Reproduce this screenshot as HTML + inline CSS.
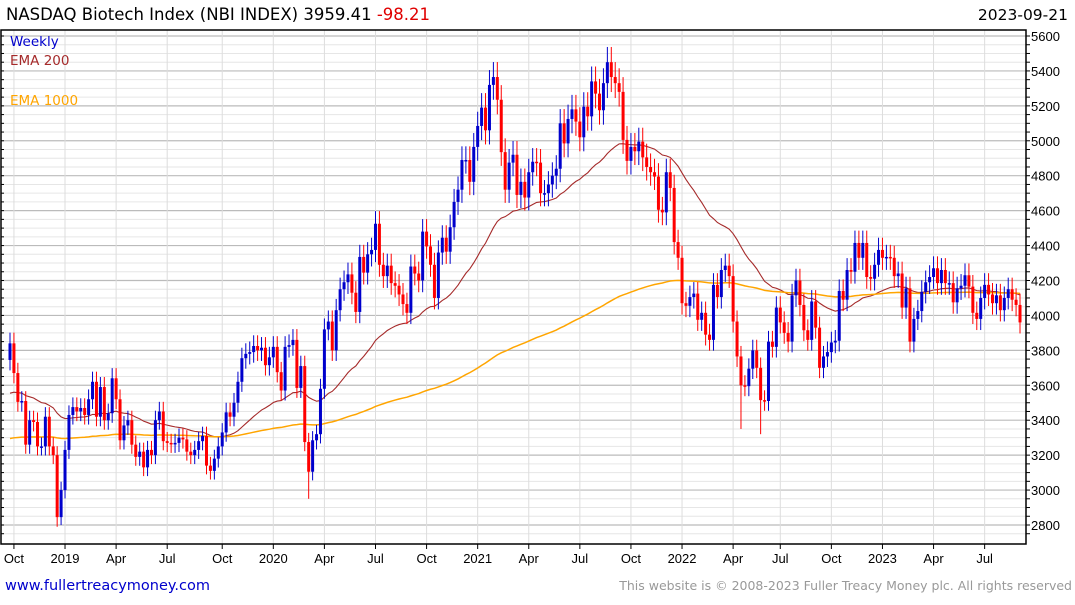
<!DOCTYPE html>
<html><head><meta charset="utf-8"><style>
body{margin:0;background:#fff;width:1075px;height:600px;overflow:hidden;font-family:"Liberation Sans",sans-serif}
svg text{font-family:"Liberation Sans",sans-serif}
svg text.dv{font-family:"DejaVu Sans",sans-serif}
</style></head><body>
<svg id="chart" width="1075" height="600" xmlns="http://www.w3.org/2000/svg">
<g id="grid"></g>
<g id="lines"></g>
<g id="candles"></g>
<rect x="1" y="30" width="1025" height="514" fill="none" stroke="#000" stroke-width="1.5"/>
<g id="axes"></g>
<text class="dv" x="6" y="20" font-size="16.5">NASDAQ Biotech Index (NBI INDEX) 3959.41 <tspan fill="#e00000">-98.21</tspan></text>
<text class="dv" x="1068" y="20" font-size="15.5" text-anchor="end">2023-09-21</text>
<text class="dv" x="10" y="46" font-size="13.5" fill="#0000cc">Weekly</text>
<text class="dv" x="10" y="65" font-size="13.5" fill="#a52a2a">EMA 200</text>
<text class="dv" x="10" y="105" font-size="13.5" fill="#ffa500">EMA 1000</text>
<text class="dv" x="5" y="590" font-size="14.5" fill="#0000cc">www.fullertreacymoney.com</text>
<text class="dv" x="1072" y="590" font-size="12.5" fill="#999" text-anchor="end">This website is © 2008-2023 Fuller Treacy Money plc. All rights reserved</text>
</svg>
<script>
const closes = [3840,3670,3505,3510,3260,3400,3390,3250,3250,3420,3250,3200,2845,3000,3230,3430,3475,3450,3470,3430,3520,3620,3420,3590,3400,3440,3640,3520,3285,3370,3400,3260,3190,3220,3130,3230,3200,3400,3450,3280,3270,3265,3270,3300,3290,3220,3200,3230,3280,3310,3140,3110,3180,3250,3330,3445,3420,3500,3620,3755,3780,3790,3825,
3800,3815,3715,3760,3820,3675,3570,3820,3830,3860,3585,3710,3275,3105,3285,3320,3580,3920,3965,3800,4030,4150,4190,4235,4130,4020,4335,4245,4350,4375,4525,4290,4225,4285,4185,4170,4120,4065,4015,4280,4240,4200,4480,4395,4290,4100,4360,4445,4365,4505,4650,
4720,4890,4890,4765,4965,5085,5190,5060,5320,5365,5235,4935,4720,4875,4920,4690,4765,4675,4820,4880,4875,4700,4700,4750,4800,4840,5100,4985,5125,5180,5110,5020,5195,5140,5340,5270,5175,5330,5450,5365,5330,5280,5005,4885,4965,4940,4995,4905,4850,4820,4795,4605,4590,4820,4730,4420,4330,
4070,4055,4105,4125,3975,4015,3890,3860,4175,4105,4260,4285,4225,3965,3765,3600,3595,3695,3800,3700,3515,3510,3850,3820,4045,3960,3900,3850,4115,4200,4060,3915,3860,4080,3930,3700,3765,3790,3845,3855,4140,4090,4260,
4250,4415,4330,4415,4220,4210,4290,4375,4330,4335,4330,4225,4240,4045,4155,3850,3980,4025,4135,4190,4220,4270,4185,4260,4185,4185,4075,4155,4170,4230,4165,4015,3980,4100,4175,4120,4070,4115,4030,4100,4150,4090,4060,3960];
const firstOpen = 3745;
const ema200Seed = 3540;
const ema1000Seed = 3290;
const lowWeeks = [12,76,186,191];
const lowValues = [2790,2950,3350,3320];
const yTicks = [2800,3000,3200,3400,3600,3800,4000,4200,4400,4600,4800,5000,5200,5400,5600];
const xLabels = ["Oct","2019","Apr","Jul","Oct","2020","Apr","Jul","Oct","2021","Apr","Jul","Oct","2022","Apr","Jul","Oct","2023","Apr","Jul"];
const xLabelWeeks = [1,14,27,40,54,67,80,93,106,119,132,145,158,171,184,196,209,222,235,248];

const NS="http://www.w3.org/2000/svg";
function yS(p){return 36+(5600-p)*0.17464;}
function xS(i){return 10+i*3.93;}
function mk(tag,attrs,parent){const e=document.createElementNS(NS,tag);for(const k in attrs)e.setAttribute(k,attrs[k]);parent.appendChild(e);return e;}
const grid=document.getElementById('grid'),axes=document.getElementById('axes'),cg=document.getElementById('candles'),lg=document.getElementById('lines');
for(let p=2750;p<=5650;p+=50){const y=yS(p);if(y<30||y>544)continue;const major=p%200===0;
 const l=mk('line',{x1:1,x2:1026,y1:y,y2:y,stroke:major?'#bbb':'#e6e6e6','stroke-width':major?1.2:1},grid);
 
 const t=mk('line',{x1:1026,x2:1030,y1:y,y2:y,stroke:'#000'},axes);
 const t2=mk('line',{x1:1,x2:4,y1:y,y2:y,stroke:'#000'},axes);}
yTicks.forEach(v=>{const t=mk('text',{x:1031,y:yS(v)+5,'font-size':13},axes);t.textContent=v;});
xLabels.forEach((s,k)=>{const x=xS(xLabelWeeks[k]);
 const l=mk('line',{x1:x,x2:x,y1:30,y2:544,stroke:'#ddd'},grid);
 const tk=mk('line',{x1:x,x2:x,y1:544,y2:549,stroke:'#000'},axes);
 const t=mk('text',{x:x,y:563,'font-size':13,'text-anchor':'middle'},axes);t.textContent=s;});
function ema(seed,a){let e=seed;return closes.map(c=>{e=e+a*(c-e);return e;});}
[[ema(ema200Seed,2/41),'#a52a2a','ema-200-line'],[ema(ema1000Seed,2/201),'#ffa500','ema-1000-line']].forEach(([arr,col,nm])=>{
 const pl=mk('polyline',{points:arr.map((v,i)=>xS(i)+','+yS(v)).join(' '),fill:'none',stroke:col,'stroke-width':nm==='ema-1000-line'?1.5:1.1},lg);
 });
closes.forEach((c,i)=>{const o=i===0?firstOpen:closes[i-1];const up=c>=o;const col=up?'#0000cc':'#ff0000';
 let hi=Math.max(o,c)*1.016,lo=Math.min(o,c)*0.984;const li=lowWeeks.indexOf(i);if(li>=0)lo=Math.min(lo,lowValues[li]);
 const x=xS(i);
 const w=mk('line',{x1:x,x2:x,y1:yS(hi),y2:yS(lo),stroke:col,'stroke-width':1},cg);
 
 const top=yS(Math.max(o,c)),h=Math.max(1.5,yS(Math.min(o,c))-top);
 const r=mk('rect',{x:x-1.5,y:top,width:3,height:h,fill:col},cg);
 });
</script>
</body></html>
